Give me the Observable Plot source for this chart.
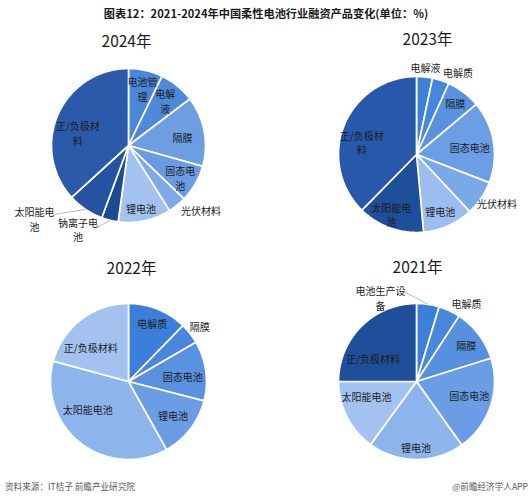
<!DOCTYPE html>
<html>
<head>
<meta charset="utf-8">
<script src="https://cdn.jsdelivr.net/npm/d3@7"></script>
<script src="https://cdn.jsdelivr.net/npm/@observablehq/plot@0.6"></script>
<style>
  html, body { margin: 0; padding: 0; background: #fff; }
  body { width: 532px; height: 500px; overflow: hidden; font-family: "Noto Sans CJK SC", "Noto Sans", sans-serif; }
  #title { height: 26px; line-height: 26px; text-align: center; font-size: 11.2px; font-weight: bold; color: #1a1a1a; }
  #footer { position: relative; height: 24px; font-size: 8.6px; color: #5a5a5a; }
  #footer .l { position: absolute; left: 5px; top: 4px; }
  #footer .r { position: absolute; right: 4px; top: 4px; }
</style>
</head>
<body>
<div id="title">图表12：2021-2024年中国柔性电池行业融资产品变化(单位：%)</div>
<div id="chart"></div>
<div id="footer"><span class="l">资料来源：IT桔子 前瞻产业研究院</span><span class="r">@前瞻经济学人APP</span></div>
<script>
// ---- data ----
const years = ["2024年", "2023年", "2022年", "2021年"];

const cats2024 = ["电池管理", "电解液", "隔膜", "固态电池", "光伏材料", "锂电池", "钠离子电池", "太阳能电池", "正/负极材料"];
const vals2024 = [7.2, 7.5, 14.7, 7.8, 3.9, 11.1, 3.5, 7.6, 36.8];
const text2024 = ["电池管\n理", "电解\n液", "隔膜", "固态电\n池", "光伏材料", "锂电池", "钠离子电\n池", "太阳能电\n池", "正/负极材\n料"];

const cats2023 = ["电解液", "电解质", "隔膜", "固态电池", "光伏材料", "锂电池", "太阳能电池", "正/负极材料"];
const vals2023 = [3.3, 3.5, 7.1, 17.0, 7.2, 10.5, 13.8, 37.7];
const text2023 = ["电解液", "电解质", "隔膜", "固态电池", "光伏材料", "锂电池", "太阳能电\n池", "正/负极材\n料"];

const cats2022 = ["电解质", "隔膜", "固态电池", "锂电池", "太阳能电池", "正/负极材料"];
const vals2022 = [12.3, 4.3, 12.4, 12.9, 37.3, 20.8];
const text2022 = ["电解质", "隔膜", "固态电池", "锂电池", "太阳能电池", "正/负极材料"];

const cats2021 = ["电池生产设备", "电解质", "隔膜", "固态电池", "锂电池", "太阳能电池", "正/负极材料"];
const vals2021 = [4.7, 4.5, 11.0, 20.0, 19.9, 15.0, 25.0];
const text2021 = ["电池生产设\n备", "电解质", "隔膜", "固态电池", "锂电池", "太阳能电池", "正/负极材料"];

// ---- styles / layout ----
const colors2024 = ["#4a86d9", "#4f89da", "#6d9ee2", "#6b9ce1", "#7fa9e7", "#a4c2ef", "#1e4a93", "#2553a1", "#2a5aa9"];
const colors2023 = ["#3f80db", "#4686dc", "#5891df", "#6b9ee5", "#7aa9e9", "#9bbdf0", "#1f4e9b", "#2758ac"];
const colors2022 = ["#3b7fdb", "#4887dd", "#5891e0", "#6a9de4", "#8db4ec", "#a3c2f0"];
const colors2021 = ["#3c7fdb", "#4787dc", "#5790df", "#6a9de4", "#8db4ec", "#a3c2f0", "#1f4e9b"];

// label placement: [radius factor, angle shift in degrees]
const place2024 = [[0.76, 1], [0.75, 0], [0.71, 2], [0.79, 2], [1.08, 0], [0.83, 1], [1.27, 17], [1.55, 18], [0.68, -9.5]];
const place2023 = [[1.12, 0], [1.18, 8.6], [0.82, 0], [0.69, 2], [1.21, -2.6], [0.79, 1.5], [0.83, 3.3], [0.72, -9.7]];
const place2022 = [[0.81, 0], [1.16, 0], [0.70, 2.7], [0.72, 0], [0.63, 18], [0.65, -10.8]];
const place2021 = [[1.17, -31.7], [1.19, 7.6], [0.79, 1], [0.70, -4], [0.85, 0], [0.67, 10.3], [0.63, -17]];
const anchor2024 = ["middle", "middle", "middle", "middle", "start", "middle", "middle", "middle", "middle"];

// leader lines: [slice index, end radius factor, end angle shift]
const leaders2024 = [[6, 1.14, 6.7], [7, 1.30, 12.7]];
const leaders2021 = [[0, 1.16, -16.1]];

const W = 532, H = 450;
const panels = [
  {year: years[0], cats: cats2024, vals: vals2024, text: text2024, colors: colors2024, place: place2024, leaders: leaders2024, anchors: anchor2024, cx: 128, cy: 119, r: 77, tx: 126, ty: 16},
  {year: years[1], cats: cats2023, vals: vals2023, text: text2023, colors: colors2023, place: place2023, leaders: [], cx: 416, cy: 128, r: 78, tx: 427, ty: 14},
  {year: years[2], cats: cats2022, vals: vals2022, text: text2022, colors: colors2022, place: place2022, leaders: [], cx: 128, cy: 355, r: 78, tx: 131, ty: 243},
  {year: years[3], cats: cats2021, vals: vals2021, text: text2021, colors: colors2021, place: place2021, leaders: leaders2021, cx: 416, cy: 355, r: 78, tx: 417, ty: 242}
];

const pie = d3.pie().sort(null).value(d => d);
const polyPts = [], labels = [], links = [];
const deg = Math.PI / 180;
panels.forEach((p, pi) => {
  const arcs = pie(p.vals);
  arcs.forEach((a, i) => {
    const id = pi + "-" + i;
    const color = p.colors[i];
    polyPts.push({id, color, x: p.cx, y: p.cy});
    const n = Math.max(2, Math.ceil((a.endAngle - a.startAngle) / deg) + 1);
    for (let k = 0; k <= n; k++) {
      const t = a.startAngle + (a.endAngle - a.startAngle) * k / n;
      polyPts.push({id, color, x: p.cx + p.r * Math.sin(t), y: p.cy - p.r * Math.cos(t)});
    }
    const mid = (a.startAngle + a.endAngle) / 2;
    const [kf, sh] = p.place[i];
    const t = mid + sh * deg;
    labels.push({
      x: p.cx + kf * p.r * Math.sin(t),
      y: p.cy - kf * p.r * Math.cos(t),
      text: p.text[i],
      anchor: p.anchors ? p.anchors[i] : "middle"
    });
  });
  p.leaders.forEach(([i, kf, sh]) => {
    const a = arcs[i];
    const mid = (a.startAngle + a.endAngle) / 2;
    const t2 = mid + sh * deg;
    links.push({
      x1: p.cx + p.r * Math.sin(mid), y1: p.cy - p.r * Math.cos(mid),
      x2: p.cx + kf * p.r * Math.sin(t2), y2: p.cy - kf * p.r * Math.cos(t2)
    });
  });
});

const titles = panels.map(p => ({x: p.tx, y: p.ty, text: p.year}));

const chart = Plot.plot({
  width: W, height: H,
  margin: 0,
  x: {domain: [0, W], range: [0, W], axis: null},
  y: {domain: [0, H], range: [0, H], axis: null},
  style: {fontFamily: '"Noto Sans CJK SC", "Noto Sans", sans-serif', background: "white"},
  marks: [
    Plot.line(polyPts, {x: "x", y: "y", z: "id", fill: "color", stroke: "white", strokeWidth: 1.7, curve: "linear-closed", strokeLinejoin: "round"}),
    Plot.link(links, {x1: "x1", y1: "y1", x2: "x2", y2: "y2", stroke: "#a8a8a8", strokeWidth: 0.8}),
    Plot.text(labels.filter(d => d.anchor === "middle"), {x: "x", y: "y", text: "text", fontSize: 10, fill: "#1c1c1c", lineHeight: 1.46}),
    Plot.text(labels.filter(d => d.anchor === "start"), {x: "x", y: "y", text: "text", fontSize: 10, fill: "#1c1c1c", lineHeight: 1.46, textAnchor: "start"}),
    Plot.text(titles, {x: "x", y: "y", text: "text", fontSize: 15.5, fill: "#1a1a1a"})
  ]
});
document.getElementById("chart").appendChild(chart);
</script>
</body>
</html>
